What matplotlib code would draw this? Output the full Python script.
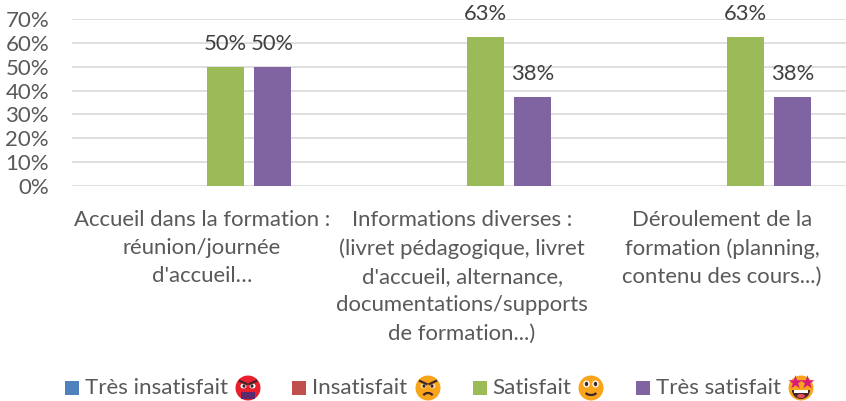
import numpy as np
from matplotlib import pyplot as plt
from matplotlib.patches import Arc, Ellipse, Rectangle, Wedge

plt.rcParams['font.family'] = ['Lato', 'DejaVu Sans']

categories = ['Accueil dans la formation :\nréunion/journée\nd\'accueil…',
              'Informations diverses :\n(livret pédagogique, livret\nd\'accueil, alternance,\ndocumentations/supports\nde formation...)',
              'Déroulement de la\nformation (planning,\ncontenu des cours...)']
series = ['Très insatisfait', 'Insatisfait', 'Satisfait', 'Très satisfait']
tres_insatisfait = [0, 0, 0]
insatisfait = [0, 0, 0]
satisfait = [50, 62.5, 62.5]
tres_satisfait = [50, 37.5, 37.5]
colors = ['#4f81bd', '#c0504d', '#9bbb59', '#8064a2']
yticks = [0, 10, 20, 30, 40, 50, 60, 70]
GREY = '#595959'
DARK = '#40252a'

W, H = 846, 401
fig = plt.figure(figsize=(W / 100, H / 100), dpi=100)
ax = fig.add_axes([72 / W, 1 - 186 / H, (852 - 72) / W, (186 - 19) / H])
ax.patch.set_alpha(0)

x = np.arange(3)
bar_w = 37 / 260
step = 47 / 260
for i, vals in enumerate([tres_insatisfait, insatisfait, satisfait, tres_satisfait]):
    pos = x + (i - 1.5) * step
    ax.bar(pos, vals, bar_w, color=colors[i], zorder=3)
    for p, v in zip(pos, vals):
        if v > 0:
            ax.text(p, v + 5.2, f'{v + 0.001:.0f}%', ha='center', va='bottom',
                    fontsize=15.8, color='#404040', clip_on=False, zorder=4)

ax.set_xlim(-0.5, 2.5)
ax.set_ylim(0, 70)
ax.set_yticks(yticks)
ax.set_yticklabels([f'{t}%' for t in yticks], fontsize=16, color=GREY)
ax.set_xticks(x)
ax.set_xticklabels(categories, fontsize=15.9, color=GREY, linespacing=1.52)
ax.tick_params(length=0)
ax.tick_params(axis='y', pad=16.5)
ax.tick_params(axis='x', pad=17)
ax.grid(axis='y', color='#d9d9d9', lw=1.2, zorder=0)
ax.set_axisbelow(True)
for s in ax.spines.values():
    s.set_visible(False)

# legend by hand, the colour emoji are in no installed font so they are drawn
overlay = fig.add_axes([0, 0, 1, 1])
overlay.set_xlim(0, W)
overlay.set_ylim(H, 0)
overlay.axis('off')
overlay.patch.set_alpha(0)
swatch_x = [65, 292, 473, 636]
text_x = [85, 312, 492, 656]
face_x = [248, 428, 591, 801]
face_y = 388
face_colors = ['#e8202e', '#f9a51c', '#f9a51c', '#f9a51c']
for i, name in enumerate(series):
    overlay.add_patch(Rectangle((swatch_x[i], 381), 14, 14, color=colors[i], lw=0))
    overlay.text(text_x[i], face_y, name, fontsize=16.1, color=GREY, va='center', ha='left')
    overlay.add_patch(Ellipse((face_x[i], face_y), 25, 25, color=face_colors[i], lw=0))

# angry faces
for fx, eye in zip(face_x[:2], ['white', '#ffe0a0']):
    for side in (-1, 1):
        overlay.add_patch(Ellipse((fx + side * 4.5, face_y - 2), 6, 5, color=eye, lw=0))
        overlay.add_patch(Ellipse((fx + side * 4, face_y - 2), 3, 3.5, color=DARK, lw=0))
        overlay.plot([fx + side * 8, fx + side * 1.5], [face_y - 7, face_y - 4], color=DARK, lw=1.6)
overlay.add_patch(Rectangle((face_x[0] - 7, face_y + 4), 14, 7, color='#5b2a6e', lw=0))
overlay.add_patch(Arc((face_x[1], face_y + 9), 10, 8, theta1=200, theta2=340, color=DARK, lw=1.6))
# smile
fx = face_x[2]
for side in (-1, 1):
    overlay.add_patch(Ellipse((fx + side * 4.5, face_y - 4), 6.5, 7, color='white', lw=0))
    overlay.add_patch(Ellipse((fx + side * 4.5, face_y - 4), 3.5, 4.5, color=DARK, lw=0))
overlay.add_patch(Arc((fx, face_y + 3), 12, 8, theta1=20, theta2=160, color=DARK, lw=1.6))
# star eyes
fx = face_x[3]
overlay.add_patch(Wedge((fx, face_y + 2), 9, 0, 180, color=DARK, lw=0))
overlay.add_patch(Rectangle((fx - 7, face_y + 2), 14, 2.5, color='white', lw=0))
overlay.add_patch(Ellipse((fx, face_y + 8), 8, 4, color='#e8505b', lw=0))
overlay.scatter([fx - 6, fx + 6], [face_y - 6, face_y - 6], marker='*', s=110, color='#d81b78', lw=0, zorder=5)

fig.savefig('out.png', dpi=100)
